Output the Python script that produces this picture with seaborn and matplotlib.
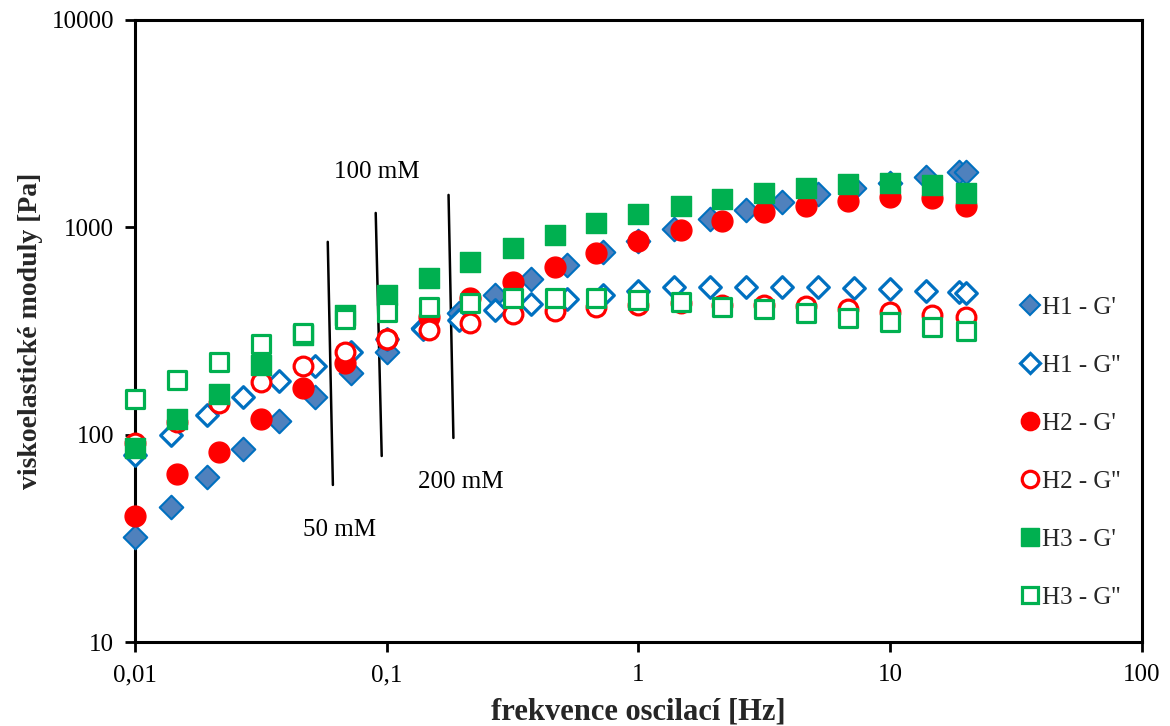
import numpy as np
import pandas as pd
import matplotlib
matplotlib.use("Agg")
import matplotlib.pyplot as plt
import seaborn as sns
from matplotlib.ticker import FixedLocator, FixedFormatter, NullLocator

# ---- data ----
freq_h1 = [0.01, 0.0139, 0.0193, 0.0268, 0.0373, 0.0518, 0.072, 0.1, 0.139, 0.193,
           0.268, 0.373, 0.518, 0.72, 1.0, 1.39, 1.93, 2.68, 3.73, 5.18, 7.2, 10.0,
           13.9, 18.7, 20.0]
h1_g1 = [32.1, 44.8, 62.5, 85.3, 116, 152, 199, 251, 327, 386,
         472, 564, 659, 761, 860, 982, 1098, 1213, 1327, 1449, 1549, 1640,
         1750, 1850, 1850]
h1_g2 = [79.8, 99.7, 124.5, 152, 182, 214, 251, 290, 325, 357,
         400, 427, 451, 472, 493, 516, 516, 516, 516, 516, 510, 505,
         493, 488, 484]

freq_h23 = [0.01, 0.0147, 0.0215, 0.0316, 0.0464, 0.0681, 0.1, 0.147, 0.215, 0.316,
            0.464, 0.681, 1.0, 1.47, 2.15, 3.16, 4.64, 6.81, 10.0, 14.7, 20.0]
h2_g1 = [40.5, 64.6, 82.5, 119, 168, 222, 290, 370, 456, 545,
         644, 753, 860, 972, 1074, 1187, 1268, 1341, 1402, 1387, 1268]
h2_g2 = [91.2, 115, 142, 180, 214, 251, 290, 320, 346, 382,
         395, 413, 423, 432, 423, 423, 418, 404, 391, 378, 370]
h3_g1 = [86.3, 119, 157, 217, 303, 378, 472, 570, 681, 796,
         919, 1050, 1161, 1268, 1371, 1466, 1549, 1620, 1638, 1603, 1466]
h3_g2 = [149, 184, 224, 274, 310, 361, 391, 413, 432, 456,
         456, 456, 446, 437, 413, 404, 386, 366, 350, 331, 316]

labels = ["H1 - G'", "H1 - G''", "H2 - G'", "H2 - G''", "H3 - G'", "H3 - G''"]

x_ticks = [0.01, 0.1, 1, 10, 100]
x_ticklabels = ["0,01", "0,1", "1", "10", "100"]
y_ticks = [10, 100, 1000, 10000]
y_ticklabels = ["10", "100", "1000", "10000"]

annot_lines = [((0.0583, 851), (0.0611, 57.2)),
               ((0.0904, 1173), (0.0955, 78.9)),
               ((0.176, 1433), (0.184, 96.4))]
annot_texts = [("100 mM", 0.0911, 1850), ("200 mM", 0.197, 59.1), ("50 mM", 0.0651, 34.7)]

# ---- style ----
sns.set_theme(style="white")
plt.rcParams['font.family'] = ['Liberation Serif', 'DejaVu Serif']

BLUE = "#0070C0"
BLUE_FILL = "#4F81BD"
RED = "#FF0000"
GREEN = "#00B050"

fig = plt.figure(figsize=(11.7, 7.26), dpi=100)
ax = fig.add_axes([0.1154, 0.1157, 0.976 - 0.1154, 0.9725 - 0.1157])

series = [
    (freq_h1, h1_g1, "D", BLUE_FILL, BLUE, 1.5, 12),
    (freq_h1, h1_g2, "D", "white", BLUE, 2.3, 11),
    (freq_h23, h2_g1, "o", RED, RED, 1.0, 15),
    (freq_h23, h2_g2, "o", "white", RED, 2.3, 13.5),
    (freq_h23, h3_g1, "s", GREEN, GREEN, 1.0, 14.5),
    (freq_h23, h3_g2, "s", "white", GREEN, 2.3, 13.5),
]

handles = []
for (fx, fy, mk, fc, ec, lw, ms), lab in zip(series, labels):
    df = pd.DataFrame({"f": fx, "G": fy})
    sns.scatterplot(data=df, x="f", y="G", ax=ax, marker=mk, s=ms**2,
                    facecolor=fc, edgecolor=ec, linewidth=lw, legend=False,
                    clip_on=False, zorder=3)
    h = plt.Line2D([], [], linestyle="none", marker=mk, markersize=ms * 0.88,
                   markerfacecolor=fc, markeredgecolor=ec, markeredgewidth=lw)
    handles.append(h)

ax.set_xscale("log")
ax.set_yscale("log")
ax.set_xlim(0.01, 100)
ax.set_ylim(10, 10000)

ax.xaxis.set_major_locator(FixedLocator(x_ticks))
ax.xaxis.set_major_formatter(FixedFormatter(x_ticklabels))
ax.xaxis.set_minor_locator(NullLocator())
ax.yaxis.set_major_locator(FixedLocator(y_ticks))
ax.yaxis.set_major_formatter(FixedFormatter(y_ticklabels))
ax.yaxis.set_minor_locator(NullLocator())

ax.tick_params(axis="both", which="major", direction="out", length=7, width=2,
               color="black", labelsize=18, labelcolor="black",
               bottom=True, left=True, top=False, right=False)
ax.tick_params(axis="x", pad=9)
ax.tick_params(axis="y", pad=8)

for sp in ax.spines.values():
    sp.set_visible(True)
    sp.set_color("black")
    sp.set_linewidth(2.2)

ax.set_xlabel("frekvence oscilací [Hz]", fontsize=22, fontweight="bold", labelpad=8)
ax.set_ylabel("viskoelastické moduly [Pa]", fontsize=20, fontweight="bold", labelpad=6)

for (p0, p1) in annot_lines:
    ax.plot([p0[0], p1[0]], [p0[1], p1[1]], color="black", linewidth=1.8)
for (txt, tx, ty) in annot_texts:
    ax.text(tx, ty, txt, fontsize=18, ha="center", va="center", color="black")

leg = ax.legend(handles, labels, loc="center left", bbox_to_anchor=(0.862, 0.305),
                frameon=False, fontsize=18, handlelength=0.75, handletextpad=0.1,
                labelspacing=1.42, borderpad=0.2)

fig.savefig("out.png", dpi=100)
